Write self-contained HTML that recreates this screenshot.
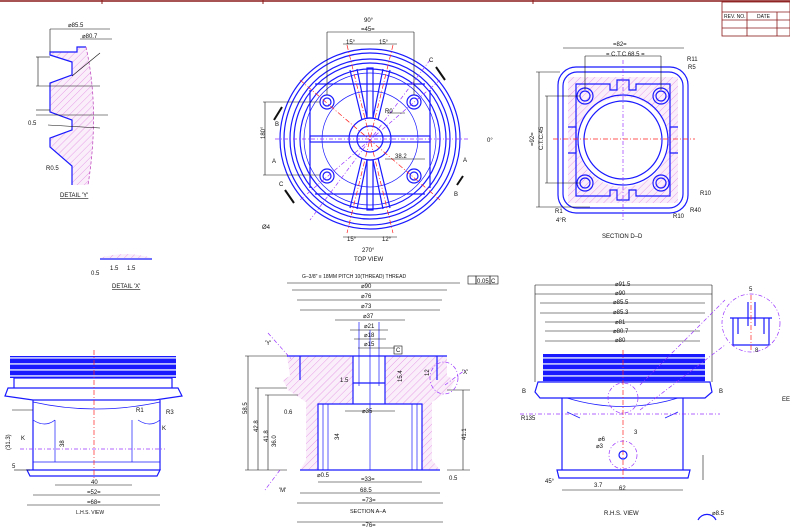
<!DOCTYPE html>
<html><head><meta charset="utf-8"><style>
html,body{margin:0;padding:0;background:#fff;}
svg{display:block;}
text{font-family:"Liberation Sans",sans-serif;font-size:6px;fill:#111;}
.b{stroke:#1a1aff;fill:none;stroke-width:1.2}
.bt{stroke:#1a1aff;fill:none;stroke-width:0.7}
.k{stroke:#111;fill:none;stroke-width:0.6}
.r{stroke:#ff2020;fill:none;stroke-width:0.7;stroke-dasharray:5 2 1 2}
.p{stroke:#9933ff;fill:none;stroke-width:0.7;stroke-dasharray:4 2 1 2}
.h{fill:url(#hat);}
</style></head><body>
<svg width="790" height="528" viewBox="0 0 790 528" xmlns="http://www.w3.org/2000/svg">
<defs>
<pattern id="hat" width="5" height="5" patternUnits="userSpaceOnUse" patternTransform="rotate(45)">
<rect width="5" height="5" fill="#fbeefb"/><line x1="0" y1="0" x2="0" y2="5" stroke="#e08be0" stroke-width="0.8"/></pattern>
<pattern id="thr" width="8" height="6" patternUnits="userSpaceOnUse">
<rect width="8" height="6" fill="#1a1aff"/><rect y="3" width="8" height="1.8" fill="#b8bcff"/></pattern>
</defs>
<line x1="0" y1="1" x2="790" y2="1" stroke="#8b1a1a" stroke-width="1.5"/>
<line x1="102" y1="0" x2="102" y2="4" stroke="#8b1a1a"/>
<line x1="263" y1="0" x2="263" y2="4" stroke="#8b1a1a"/>
<line x1="533" y1="0" x2="533" y2="4" stroke="#8b1a1a"/>
<g stroke="#8b1a1a" stroke-width="0.8" fill="none">
<rect x="722" y="2" width="68" height="34"/>
<line x1="722" y1="12" x2="790" y2="12"/><line x1="722" y1="20" x2="790" y2="20"/><line x1="722" y1="28" x2="790" y2="28"/>
<line x1="747" y1="12" x2="747" y2="36"/><line x1="777" y1="12" x2="777" y2="36"/>
</g>
<text x="724" y="18" style="font-size:5px">REV. NO.</text><text x="757" y="18" style="font-size:5px">DATE</text>

<!-- DETAIL Y -->
<path class="h" d="M50 52 L77 52 L77 47 L86 47 Q100 110 88 185 L72 185 L72 166 L50 147 L50 138 L72 130 L72 120 L50 112 L50 83 L72 75 L72 62 L50 55 Z"/>
<path class="b" d="M86 47 L77 47 L77 52 L50 52 L50 55 L72 62 L72 75 L50 83 L50 112 L72 120 L72 130 L50 138 L50 147 L72 166 L72 185"/>
<path d="M86 47 Q100 110 88 185" stroke="#c050c0" stroke-dasharray="3 2" fill="none" stroke-width="0.8"/>
<g class="k"><line x1="50" y1="29" x2="110" y2="29"/><line x1="50" y1="29" x2="50" y2="52"/><line x1="80" y1="39" x2="112" y2="39"/>
<line x1="36" y1="57" x2="50" y2="57"/><line x1="36" y1="86" x2="100" y2="86"/><line x1="38" y1="57" x2="38" y2="86"/>
<line x1="36" y1="110" x2="50" y2="110"/><line x1="36" y1="115" x2="108" y2="115"/><line x1="48" y1="125" x2="100" y2="128"/>
<line x1="72" y1="76" x2="100" y2="53"/></g>
<text x="68" y="27">⌀85.5</text><text x="82" y="38">⌀80.7</text>
<text x="28" y="125">0.5</text><text x="46" y="170">R0.5</text>
<text x="60" y="197" style="text-decoration:underline">DETAIL 'Y'</text>
<path class="h" d="M100 258 Q125 250 152 258 Z"/>
<line x1="100" y1="259" x2="152" y2="259" class="b"/>
<text x="91" y="275">0.5</text><text x="110" y="270">1.5</text><text x="127" y="270">1.5</text>
<text x="112" y="288" style="text-decoration:underline">DETAIL 'X'</text>

<!-- TOP VIEW -->
<g>
<circle cx="370" cy="139" r="90" class="b"/><circle cx="370" cy="139" r="86" class="b"/>
<circle cx="370" cy="139" r="80" class="b"/><circle cx="370" cy="139" r="76" class="b"/>
<circle cx="370" cy="139" r="70" class="b"/><circle cx="370" cy="139" r="66" class="bt"/>
<circle cx="370" cy="139" r="48" class="bt"/>
<path d="M315 84 H425 M315 194 H425 M310 90 V188 M430 90 V188" class="b"/>
<circle cx="370" cy="139" r="21" class="b" fill="#fff"/><circle cx="370" cy="139" r="13" class="b"/>
<rect x="310" y="136" width="120" height="6" class="b"/>
<rect x="367" y="68" width="6" height="50" class="b"/><rect x="367" y="160" width="6" height="50" class="b"/>
<path d="M350 70 L362 120 M357 69 L367 118 M390 70 L378 120 M383 69 L373 118 M350 208 L362 158 M357 209 L367 160 M390 208 L378 158 M383 209 L373 160" class="b"/>
<g class="b"><circle cx="327" cy="102" r="7"/><circle cx="327" cy="102" r="4"/><circle cx="414" cy="102" r="7"/><circle cx="414" cy="102" r="4"/>
<circle cx="327" cy="176" r="7"/><circle cx="327" cy="176" r="4"/><circle cx="414" cy="176" r="7"/><circle cx="414" cy="176" r="4"/></g>
<line x1="275" y1="139" x2="470" y2="139" class="p"/>
<line x1="300" y1="80" x2="440" y2="200" class="r"/><line x1="440" y1="80" x2="300" y2="200" class="p"/>
<line x1="347" y1="45" x2="393" y2="233" class="r"/><line x1="393" y1="45" x2="347" y2="233" class="r"/>
<line x1="430" y1="60" x2="310" y2="220" class="p"/>
<g class="k"><line x1="327" y1="32" x2="414" y2="32"/><line x1="327" y1="32" x2="327" y2="95"/><line x1="414" y1="32" x2="414" y2="95"/>
<line x1="263" y1="102" x2="320" y2="102"/><line x1="263" y1="175" x2="320" y2="175"/><line x1="265" y1="102" x2="265" y2="175"/>
<line x1="343" y1="44" x2="397" y2="44"/><line x1="343" y1="237" x2="397" y2="237"/>
<line x1="385" y1="159" x2="425" y2="159"/><line x1="387" y1="113" x2="405" y2="113"/></g>
<text x="364" y="22">90°</text><text x="361" y="31">=45=</text>
<text x="346" y="44">15°</text><text x="379" y="44">15°</text>
<text x="385" y="113">R0</text><text x="395" y="158">38.2</text>
<text x="347" y="241">15°</text><text x="382" y="241">12°</text>
<text x="362" y="252">270°</text><text x="354" y="261">TOP VIEW</text>
<text x="487" y="142">0°</text><text x="265" y="139" transform="rotate(-90 265 139)">180°</text>
<text x="463" y="162">A</text><text x="272" y="163">A</text><text x="275" y="126">B</text><text x="454" y="196">B</text>
<text x="429" y="62">C</text><text x="279" y="186">C</text><text x="262" y="229">Ø4</text>
<path d="M436 67 L445 80 M285 190 L294 203 M274 120 L282 107 M457 185 L463 176" stroke="#111" stroke-width="2"/>
</g>

<!-- SECTION D-D -->
<g>
<rect x="558" y="67" width="130" height="146" rx="18" class="b"/>
<rect x="563" y="72" width="120" height="136" rx="14" class="b"/>
<path class="h" fill-rule="evenodd" d="M568 77 H678 V203 H568 Z M623 97 a45 45 0 1 0 0.1 0 Z"/>
<path class="b" d="M576 84 H610 V90 H617 V80 H629 V90 H636 V84 H670 V196 H636 V190 H629 V200 H617 V190 H610 V196 H576 Z"/>
<circle cx="623" cy="140" r="45" class="b"/><circle cx="623" cy="140" r="39" class="b" fill="#fff"/>
<path class="b" d="M568 127 H576 V153 H568 M678 127 H670 V153 H678"/>
<g class="b"><circle cx="585" cy="96" r="8"/><circle cx="585" cy="96" r="5"/><circle cx="661" cy="96" r="8"/><circle cx="661" cy="96" r="5"/>
<circle cx="585" cy="183" r="8"/><circle cx="585" cy="183" r="5"/><circle cx="661" cy="183" r="8"/><circle cx="661" cy="183" r="5"/></g>
<line x1="553" y1="139" x2="695" y2="139" class="r"/><line x1="623" y1="60" x2="623" y2="220" class="p"/>
<g class="k"><line x1="563" y1="48" x2="684" y2="48"/><line x1="585" y1="56" x2="661" y2="56"/><line x1="585" y1="56" x2="585" y2="90"/><line x1="661" y1="56" x2="661" y2="90"/>
<line x1="536" y1="72" x2="560" y2="72"/><line x1="536" y1="207" x2="590" y2="207"/><line x1="539" y1="72" x2="539" y2="207"/>
<line x1="545" y1="96" x2="580" y2="96"/><line x1="545" y1="183" x2="580" y2="183"/><line x1="547" y1="96" x2="547" y2="183"/></g>
<text x="613" y="46">=82=</text><text x="606" y="56">= C.T.C.68.5 =</text>
<text x="534" y="146" transform="rotate(-90 534 146)">=92=</text><text x="543" y="150" transform="rotate(-90 543 150)">C.T.C.45</text>
<text x="687" y="61">R11</text><text x="688" y="69">R5</text><text x="700" y="195">R10</text><text x="690" y="212">R40</text><text x="673" y="218">R10</text>
<text x="555" y="213">R1</text><text x="556" y="222">4°R</text>
<text x="602" y="238">SECTION D–D</text>
</g>

<!-- SECTION A-A -->
<g>
<text x="302" y="278" style="font-size:5px">G–3/8" ≡ 18MM PITCH 10(THREAD) THREAD</text>
<rect x="468" y="276" width="8" height="8" class="k"/><rect x="476" y="276" width="14" height="8" class="k"/><rect x="490" y="276" width="8" height="8" class="k"/>
<text x="477" y="283">0.05</text><text x="491" y="283">C</text>
<path class="h" d="M287 356 H447 V376 L455 380 L450 390 L432 402 L432 460 L440 470 H300 L306 460 V402 L288 390 L283 380 L290 376 Z"/>
<rect x="318" y="404" width="104" height="66" fill="#fff"/>
<rect x="353" y="356" width="32" height="48" fill="#fff"/>
<path class="b" d="M287 356 H447 M300 356 L300 380 M437 356 L437 380 M318 404 H422 V470 H318 Z M353 356 V404 M385 356 V404 M353 383 H385 M300 470 H440"/>
<path class="bt" d="M323 404 V470 M328 404 V470 M412 404 V470 M417 404 V470 M359 322 V386 M379 322 V386 M370 330 V470"/>
<g class="k"><line x1="287" y1="283" x2="460" y2="283"/><line x1="292" y1="290" x2="447" y2="290"/><line x1="297" y1="300" x2="442" y2="300"/><line x1="300" y1="310" x2="440" y2="310"/>
<line x1="335" y1="320" x2="405" y2="320"/><line x1="350" y1="330" x2="388" y2="330"/><line x1="354" y1="339" x2="386" y2="339"/><line x1="358" y1="348" x2="395" y2="348"/>
<line x1="245" y1="356" x2="287" y2="356"/><line x1="245" y1="470" x2="287" y2="470"/><line x1="248" y1="356" x2="248" y2="470"/>
<line x1="255" y1="388" x2="287" y2="388"/><line x1="258" y1="388" x2="258" y2="470"/><line x1="265" y1="395" x2="298" y2="395"/><line x1="268" y1="395" x2="268" y2="470"/>
<line x1="345" y1="411" x2="395" y2="411"/><line x1="318" y1="482" x2="422" y2="482"/><line x1="300" y1="493" x2="440" y2="493"/><line x1="297" y1="503" x2="443" y2="503"/><line x1="297" y1="522" x2="443" y2="522"/>
<line x1="447" y1="390" x2="470" y2="390"/><line x1="447" y1="470" x2="470" y2="470"/><line x1="463" y1="390" x2="463" y2="470"/></g>
<rect x="394" y="346" width="8" height="8" class="k"/><text x="396" y="352">C</text>
<text x="361" y="288">⌀90</text><text x="361" y="298">⌀76</text><text x="361" y="308">⌀73</text><text x="363" y="318">⌀37</text>
<text x="364" y="328">⌀21</text><text x="364" y="337">⌀18</text><text x="364" y="346">⌀15</text><text x="362" y="413">⌀35</text>
<text x="340" y="382">1.5</text><text x="402" y="382" transform="rotate(-90 402 382)">15.4</text><text x="429" y="376" transform="rotate(-90 429 376)">12</text>
<text x="284" y="414">0.6</text><text x="361" y="481">=33=</text><text x="360" y="492">68.5</text><text x="362" y="502">=73=</text>
<text x="350" y="513" style="font-size:5.5px">SECTION A–A</text><text x="362" y="527">=76=</text>
<text x="247" y="414" transform="rotate(-90 247 414)">58.5</text><text x="258" y="432" transform="rotate(-90 258 432)">42.8</text>
<text x="268" y="442" transform="rotate(-90 268 442)">41.8</text><text x="276" y="447" transform="rotate(-90 276 447)">36.0</text>
<text x="339" y="440" transform="rotate(-90 339 440)">34</text><text x="466" y="440" transform="rotate(-90 466 440)">41.1</text>
<text x="317" y="477">⌀0.5</text><text x="449" y="480">0.5</text><text x="265" y="345">'Y'</text><text x="462" y="374">'X'</text><text x="279" y="492">'M'</text>
<path class="p" d="M268 333 L292 360 M280 470 L265 490 M445 385 L465 370"/>
<ellipse cx="444" cy="378" rx="14" ry="16" class="p"/>
</g>

<!-- RHS VIEW -->
<g>
<rect x="543" y="354" width="162" height="28" fill="url(#thr)"/>
<path class="b" d="M538 382 H710 L712 392 L705 398 H540 L535 392 Z M562 398 V470 M683 398 V470 M557 470 H690 L688 478 H559 Z"/>
<path class="bt" d="M567 398 Q623 415 678 398 M567 412 L580 418 M678 412 L665 418"/>
<line x1="623" y1="350" x2="623" y2="480" class="r"/>
<g class="k"><line x1="535" y1="285" x2="712" y2="285"/><line x1="535" y1="285" x2="535" y2="382"/><line x1="712" y1="285" x2="712" y2="382"/>
<line x1="535" y1="294" x2="712" y2="294"/><line x1="540" y1="303" x2="705" y2="303"/><line x1="540" y1="313" x2="705" y2="313"/><line x1="545" y1="322" x2="700" y2="322"/><line x1="545" y1="331" x2="700" y2="331"/><line x1="545" y1="341" x2="700" y2="341"/>
<line x1="562" y1="490" x2="683" y2="490"/><line x1="703" y1="455" x2="703" y2="480"/></g>
<text x="615" y="286">⌀91.5</text><text x="615" y="295">⌀90</text><text x="613" y="304">⌀85.5</text><text x="613" y="314">⌀85.3</text>
<text x="615" y="324">⌀81</text><text x="613" y="333">⌀80.7</text><text x="615" y="342">⌀80</text>
<text x="619" y="490">62</text><text x="604" y="515">R.H.S. VIEW</text>
<text x="522" y="393">B</text><text x="719" y="393">B</text><text x="521" y="420">R135</text><text x="594" y="487">3.7</text>
<text x="598" y="441">⌀6</text><text x="596" y="448">⌀3</text><text x="634" y="434">3</text><text x="545" y="483">45°</text><text x="782" y="401">EE</text>
<line x1="520" y1="414" x2="720" y2="414" class="p"/>
<circle cx="623" cy="455" r="14" class="p"/><circle cx="623" cy="455" r="4" class="b"/>
<circle cx="623" cy="398" r="15" class="p"/>
<circle cx="751" cy="323" r="29" class="p"/>
<path class="b" d="M730 318 H772 M733 318 V345 H769 V318 M738 318 V334 M764 318 V334 M748 302 V326 M755 302 V326"/>
<line x1="751" y1="295" x2="751" y2="352" class="r"/>
<line x1="640" y1="385" x2="725" y2="300" class="p"/><line x1="640" y1="410" x2="725" y2="345" class="p"/>
<text x="749" y="291">5</text><text x="755" y="352">8</text>
<path d="M698 520 a10 10 0 0 1 18 0" class="b"/><text x="712" y="515">⌀8.5</text>
</g>

<!-- LHS VIEW -->
<g>
<rect x="10" y="356" width="166" height="22" fill="url(#thr)"/>
<path class="b" d="M14 378 H172 V388 H14 Z M8 388 H178 L182 396 L155 400 H33 L5 396 Z M33 400 V470 M160 400 V470 M27 470 H160 L157 476 H30 Z"/>
<path class="bt" d="M33 402 Q95 416 160 402 M33 420 Q45 428 55 420 M138 420 Q150 428 160 420 M55 420 V462 M132 420 V462 M33 462 H160"/>
<line x1="94" y1="350" x2="94" y2="480" class="r"/>
<line x1="20" y1="449" x2="165" y2="449" class="p"/>
<g class="k"><line x1="55" y1="485" x2="132" y2="485"/><line x1="33" y1="495" x2="160" y2="495"/><line x1="27" y1="505" x2="160" y2="505"/><line x1="12" y1="410" x2="33" y2="410"/><line x1="14" y1="470" x2="30" y2="470"/></g>
<text x="91" y="484">40</text><text x="87" y="494">=52=</text><text x="87" y="504">=68=</text><text x="76" y="514" style="font-size:5px">L.H.S. VIEW</text>
<text x="10" y="450" transform="rotate(-90 10 450)">(31.3)</text><text x="64" y="447" transform="rotate(-90 64 447)">38</text>
<text x="136" y="412">R1</text><text x="166" y="414">R3</text><text x="21" y="440">K</text><text x="162" y="430">K</text><text x="12" y="468">5</text>
</g>
</svg>
</body></html>
